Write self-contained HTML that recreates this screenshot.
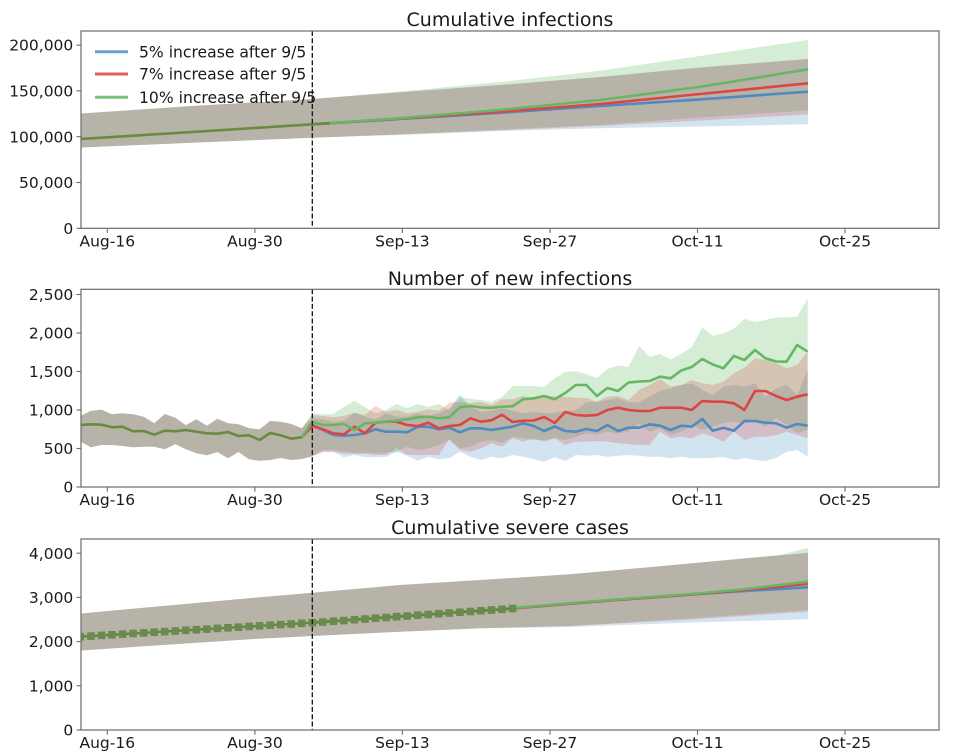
<!DOCTYPE html>
<html><head><meta charset="utf-8"><style>html,body{margin:0;padding:0;background:#fff}svg{display:block}</style></head>
<body>
<svg width="954" height="754" viewBox="0 0 954 754" xmlns="http://www.w3.org/2000/svg" font-family="'DejaVu Sans','Liberation Sans',sans-serif">
<defs>
<clipPath id="c1"><rect x="81" y="31" width="858" height="197.3"/></clipPath>
<clipPath id="c2"><rect x="81" y="289.3" width="858" height="197.7"/></clipPath>
<clipPath id="c3"><rect x="81" y="539" width="858" height="191"/></clipPath>
<marker id="sq" markerUnits="userSpaceOnUse" markerWidth="8" markerHeight="8" refX="3.8" refY="3.8" overflow="visible"><rect x="0" y="0" width="7.6" height="7.6" fill="#6b8a4d"/></marker>
</defs>
<rect width="954" height="754" fill="#fff"/>

<!-- ================= PANEL 1 ================= -->
<text x="510" y="26" font-size="19" text-anchor="middle" fill="#1a1a1a">Cumulative infections</text>
<g clip-path="url(#c1)">
<polygon fill="#1f77b4" fill-opacity="0.2" points="80.4,113.5 200,105.5 312.3,99 400,92.3 500,85 600,77 700,67.5 808,59 808,124.3 700,126.5 600,128.3 500,131 400,135 312.3,137.7 80.4,147.5"/>
<polygon fill="#2ca02c" fill-opacity="0.2" points="80.4,113.5 200,105.5 312.3,99 400,91.5 500,82 600,70.7 700,56 808,40 808,110.5 700,117.5 600,125 500,129.5 400,134.3 312.3,137.7 80.4,147.5"/>
<polygon fill="#d62728" fill-opacity="0.2" points="80.4,113.5 200,105.5 312.3,99 400,92.3 500,85 600,77 700,67.5 808,59 808,114.5 700,120.5 600,126 500,130.5 400,134.5 312.3,137.7 80.4,147.5"/>
<polyline fill="none" stroke="#4f8ac1" stroke-width="2.6" points="312.3,124.3 400,119 500,112.8 600,106 700,99.4 808,91.7"/>
<polyline fill="none" stroke="#dd4444" stroke-width="2.6" points="312.3,124.3 400,118.6 500,111.8 600,104 700,94 808,83.3"/>
<polyline fill="none" stroke="#66b764" stroke-width="2.6" points="312.3,124.3 400,118.2 500,110 600,100 700,86.9 808,69.3"/>
<polyline fill="none" stroke="#6a8a40" stroke-width="2.6" points="80.4,139 200,131.5 312.3,124.3 330,123.2"/>
</g>
<line x1="312.3" y1="31" x2="312.3" y2="228.3" stroke="#111" stroke-width="1.3" stroke-dasharray="5,2.3"/>
<rect x="81" y="31" width="858" height="197.3" fill="none" stroke="#6b6b6b" stroke-width="1.2"/>
<!-- legend -->
<line x1="95" y1="51.7" x2="128" y2="51.7" stroke="#6aa0d0" stroke-width="3"/>
<line x1="95" y1="74" x2="128" y2="74" stroke="#e06060" stroke-width="3"/>
<line x1="95" y1="97.3" x2="128" y2="97.3" stroke="#7cc07a" stroke-width="3"/>
<g font-size="15.6" fill="#1a1a1a">
<text x="139" y="57.3">5% increase after 9/5</text>
<text x="139" y="79.6">7% increase after 9/5</text>
<text x="139" y="102.9">10% increase after 9/5</text>
</g>
<g stroke="#6b6b6b" stroke-width="1.1">
<line x1="76.5" y1="228.3" x2="81" y2="228.3"/><line x1="76.5" y1="182.5" x2="81" y2="182.5"/><line x1="76.5" y1="136.7" x2="81" y2="136.7"/><line x1="76.5" y1="90.9" x2="81" y2="90.9"/><line x1="76.5" y1="45.1" x2="81" y2="45.1"/>
<line x1="107.3" y1="228.3" x2="107.3" y2="233"/><line x1="254.9" y1="228.3" x2="254.9" y2="233"/><line x1="402.4" y1="228.3" x2="402.4" y2="233"/><line x1="550" y1="228.3" x2="550" y2="233"/><line x1="697.5" y1="228.3" x2="697.5" y2="233"/><line x1="845" y1="228.3" x2="845" y2="233"/>
</g>
<g font-size="15.5" fill="#1a1a1a" text-anchor="end">
<text x="73.3" y="233.9">0</text><text x="73.3" y="188.1">50,000</text><text x="73.3" y="142.3">100,000</text><text x="73.3" y="96.5">150,000</text><text x="73.3" y="50.7">200,000</text>
</g>
<g font-size="15.5" fill="#1a1a1a" text-anchor="middle">
<text x="107.3" y="246.5">Aug-16</text><text x="254.9" y="246.5">Aug-30</text><text x="402.4" y="246.5">Sep-13</text><text x="550" y="246.5">Sep-27</text><text x="697.5" y="246.5">Oct-11</text><text x="845" y="246.5">Oct-25</text>
</g>

<!-- ================= PANEL 2 ================= -->
<text x="510" y="285" font-size="19" text-anchor="middle" fill="#1a1a1a">Number of new infections</text>
<g clip-path="url(#c2)">
<g transform="translate(312.3 0) scale(10.54 1)">
<polygon fill="#1f77b4" fill-opacity="0.2" points="-22,416 -21,410.7 -20,409.7 -19,414.3 -18,413.3 -17,414.3 -16,416.7 -15,423.3 -14,414 -13,417.7 -12,425.3 -11,419.3 -10,425.7 -9,418.7 -8,423.3 -7,424.3 -6,428.3 -5,429.3 -4,421 -3,421.7 -2,424 -1,428.3 0,418 1,419.3 2,421.7 3,420.5 4,412.7 5,416.7 6,419.3 7,413.3 8,416.7 9,416.7 10,413.3 11,416 12,413.3 13,408.3 14,395 15,406.7 16,411.7 17,410.7 18,408.3 19,410.7 20,413.3 21,411.7 22,413.3 23,412.7 24,411 25,410 26,402.3 27,401.7 28,400 29,398.3 30,402.3 31,402.3 32,396.7 33,391 34,388.3 35,385 36,383.3 37,390 38,395 39,386.7 40,385 41,386.7 42,383.3 43,396.7 44,388.3 45,385 46,395 47,370 47,456.7 46,450 45,451.7 44,458 43,461 42,460 41,458.3 40,460 39,457 38,458 37,458.3 36,458.3 35,456.7 34,458.3 33,456.7 32,456.7 31,455.7 30,455 29,455.7 28,456.7 27,455 26,455.7 25,455 24,461 23,457.3 22,461.7 21,459.3 20,456.7 19,455 18,458.3 17,456.7 16,460 15,456.7 14,451.7 13,458.3 12,459.3 11,456.7 10,460.7 9,456 8,451.7 7,457 6,457.3 5,457.3 4,455 3,457.3 2,451.7 1,451.7 0,456.7 -1,459 -2,460 -3,458 -4,460 -5,460.7 -6,459.3 -7,452 -8,458.3 -9,452 -10,455.3 -11,453.3 -12,449.3 -13,444 -14,449.3 -15,446.7 -16,446.7 -17,447.3 -18,446 -19,445 -20,445 -21,447.3 -22,441.7"/>
<polygon fill="#2ca02c" fill-opacity="0.2" points="-22,416 -21,410.7 -20,409.7 -19,414.3 -18,413.3 -17,414.3 -16,416.7 -15,423.3 -14,414 -13,417.7 -12,425.3 -11,419.3 -10,425.7 -9,418.7 -8,423.3 -7,424.3 -6,428.3 -5,429.3 -4,421 -3,421.7 -2,424 -1,428.3 0,413.5 1,414.3 2,414 3,406.7 4,400.7 5,407.3 6,413.3 7,410 8,404 9,408.3 10,404 11,406.7 12,404 13,410 14,397 15,399 16,400 17,401.7 18,397 19,386 20,386 21,386 22,387 23,378.3 24,372 25,371.3 26,374 27,378.3 28,369 29,365.5 30,367 31,346 32,357 33,354 34,359.5 35,353.7 36,347 37,327.5 38,336 39,333.3 40,328.7 41,319 42,322 43,320 44,317.5 45,317.5 46,316.5 47,298.7 47,430 46,433 45,425 44,418 43,426.7 42,421.7 41,423.3 40,421.7 39,423.3 38,426.7 37,430 36,425 35,431.7 34,435 33,428.3 32,431.7 31,423.3 30,431.7 29,433.3 28,431.7 27,434.3 26,433.3 25,436.7 24,440 23,438.3 22,440 21,440 20,438.3 19,436.7 18,442.7 17,440 16,441.7 15,446.7 14,448.3 13,440 12,445 11,448.3 10,450 9,446.7 8,451.7 7,452.7 6,453.3 5,452.7 4,452.7 3,451.7 2,450 1,450 0,456 -1,459 -2,460 -3,458 -4,460 -5,460.7 -6,459.3 -7,452 -8,458.3 -9,452 -10,455.3 -11,453.3 -12,449.3 -13,444 -14,449.3 -15,446.7 -16,446.7 -17,447.3 -18,446 -19,445 -20,445 -21,447.3 -22,441.7"/>
<polygon fill="#d62728" fill-opacity="0.2" points="-22,416 -21,410.7 -20,409.7 -19,414.3 -18,413.3 -17,414.3 -16,416.7 -15,423.3 -14,414 -13,417.7 -12,425.3 -11,419.3 -10,425.7 -9,418.7 -8,423.3 -7,424.3 -6,428.3 -5,429.3 -4,421 -3,421.7 -2,424 -1,428.3 0,415 1,416 2,417.3 3,416 4,412.7 5,415 6,406 7,411.7 8,410 9,413.3 10,411.7 11,409.3 12,410.7 13,402.7 14,402 15,403.3 16,401.7 17,405 18,399.3 19,399.3 20,396 21,398.3 22,395 23,396.7 24,397 25,397.7 26,398 27,401.7 28,396.7 29,396 30,400 31,390 32,385 33,379 34,386.7 35,385 36,380 37,383.3 38,385 39,381.7 40,373.3 41,367.7 42,358.3 43,360 44,363.3 45,368.3 46,365 47,351.7 47,438.3 46,435 45,431.7 44,435 43,436.7 42,436.7 41,440 40,431.7 39,441.7 38,436.7 37,433.3 36,438.3 35,436.7 34,438.3 33,431.7 32,445 31,445 30,444.3 29,443.3 28,441.7 27,441 26,441.7 25,441.7 24,445 23,438.3 22,441.7 21,438.3 20,441.7 19,438.3 18,446.7 17,443.3 16,448.3 15,451.7 14,450 13,439.3 12,455 11,455 10,455 9,455 8,448.3 7,455 6,455 5,454 4,454 3,453.5 2,452 1,452 0,456 -1,459 -2,460 -3,458 -4,460 -5,460.7 -6,459.3 -7,452 -8,458.3 -9,452 -10,455.3 -11,453.3 -12,449.3 -13,444 -14,449.3 -15,446.7 -16,446.7 -17,447.3 -18,446 -19,445 -20,445 -21,447.3 -22,441.7"/>
<polyline fill="none" stroke="#4f8ac1" stroke-width="2.6" stroke-linejoin="round" vector-effect="non-scaling-stroke" points="-1,437.3 0,425 1,430 2,435 3,435.7 4,435 5,433.3 6,429.3 7,431.7 8,431.7 9,432.3 10,426.7 11,426.7 12,429.3 13,427.7 14,432.3 15,428.3 16,428.3 17,430 18,428.3 19,426.7 20,423.3 21,426 22,431 23,426.5 24,431 25,431.7 26,429 27,431 28,425 29,431 30,427.7 31,427.7 32,424.3 33,425.7 34,430 35,425.7 36,426.7 37,419 38,430.7 39,427.7 40,430.7 41,421 42,421 43,422.7 44,423.3 45,427.7 46,424 47,425.7"/>
<polyline fill="none" stroke="#dd4444" stroke-width="2.6" stroke-linejoin="round" vector-effect="non-scaling-stroke" points="-1,437.3 0,426 1,429.3 2,433.3 3,434.3 4,426.7 5,433.3 6,422.7 7,421.7 8,421.7 9,425 10,426 11,422.7 12,428.3 13,426 14,425 15,418.3 16,421.7 17,420.3 18,414.7 19,422 20,420.7 21,420.5 22,417 23,423 24,412 25,415 26,415.7 27,415 28,410 29,407.7 30,410 31,411 32,411 33,407.7 34,407.7 35,407.7 36,410 37,401 38,401.7 39,401.7 40,403.3 41,410 42,391 43,391 44,396 45,400 46,396.7 47,394.3"/>
<polyline fill="none" stroke="#66b764" stroke-width="2.6" stroke-linejoin="round" vector-effect="non-scaling-stroke" points="-1,437.3 0,421.7 1,425 2,425 3,424 4,430 5,423.3 6,422.7 7,421.7 8,420.7 9,419.3 10,417.3 11,416.7 12,418.3 13,417.3 14,407.3 15,406 16,407.5 17,407.8 18,406.7 19,406.3 20,399.3 21,398.3 22,396 23,399.3 24,393 25,385 26,385 27,396 28,388 29,391 30,382.5 31,381.5 32,381 33,376.7 34,378.3 35,370.5 36,367 37,359 38,364.5 39,368.3 40,356 41,360 42,350 43,358.3 44,361.5 45,361.7 46,345 47,351.7"/>
<polyline fill="none" stroke="#6a8a40" stroke-width="2.6" stroke-linejoin="round" vector-effect="non-scaling-stroke" points="-22,425 -21,424.3 -20,424.7 -19,427.3 -18,426.7 -17,431.3 -16,431 -15,434.7 -14,430.7 -13,431.3 -12,430 -11,431.7 -10,433.3 -9,433.7 -8,432 -7,436 -6,435.3 -5,440 -4,433 -3,435.3 -2,438.7 -1,437.3"/>
</g>
</g>
<line x1="312.3" y1="289.3" x2="312.3" y2="487" stroke="#111" stroke-width="1.3" stroke-dasharray="5,2.3"/>
<rect x="81" y="289.3" width="858" height="197.7" fill="none" stroke="#6b6b6b" stroke-width="1.2"/>
<g stroke="#6b6b6b" stroke-width="1.1">
<line x1="76.5" y1="487" x2="81" y2="487"/><line x1="76.5" y1="448.5" x2="81" y2="448.5"/><line x1="76.5" y1="410" x2="81" y2="410"/><line x1="76.5" y1="371.5" x2="81" y2="371.5"/><line x1="76.5" y1="333" x2="81" y2="333"/><line x1="76.5" y1="294.5" x2="81" y2="294.5"/>
<line x1="107.3" y1="487" x2="107.3" y2="491.7"/><line x1="254.9" y1="487" x2="254.9" y2="491.7"/><line x1="402.4" y1="487" x2="402.4" y2="491.7"/><line x1="550" y1="487" x2="550" y2="491.7"/><line x1="697.5" y1="487" x2="697.5" y2="491.7"/><line x1="845" y1="487" x2="845" y2="491.7"/>
</g>
<g font-size="15.5" fill="#1a1a1a" text-anchor="end">
<text x="73.3" y="492.6">0</text><text x="73.3" y="454.1">500</text><text x="73.3" y="415.6">1,000</text><text x="73.3" y="377.1">1,500</text><text x="73.3" y="338.6">2,000</text><text x="73.3" y="300.1">2,500</text>
</g>
<g font-size="15.5" fill="#1a1a1a" text-anchor="middle">
<text x="107.3" y="505.2">Aug-16</text><text x="254.9" y="505.2">Aug-30</text><text x="402.4" y="505.2">Sep-13</text><text x="550" y="505.2">Sep-27</text><text x="697.5" y="505.2">Oct-11</text><text x="845" y="505.2">Oct-25</text>
</g>

<!-- ================= PANEL 3 ================= -->
<text x="510" y="534" font-size="19" text-anchor="middle" fill="#1a1a1a">Cumulative severe cases</text>
<g clip-path="url(#c3)">
<polygon fill="#1f77b4" fill-opacity="0.2" points="80.4,613.5 254,597.7 312.3,592.7 400,585 480,580 570,574.3 692,563.3 808,552.7 808,619.3 692,622.5 570,627 480,628.5 400,631.7 312.3,636 254,639 80.4,650.5"/>
<polygon fill="#2ca02c" fill-opacity="0.2" points="80.4,613.5 254,597.7 312.3,592.7 400,585 480,580 570,574.3 692,563.3 780,555 808,547.7 808,610 692,618.3 570,626 480,628.3 400,631.7 312.3,636 254,639 80.4,650.5"/>
<polygon fill="#d62728" fill-opacity="0.2" points="80.4,613.5 254,597.7 312.3,592.7 400,585 480,580 570,574.3 692,563.3 808,552.7 808,611.7 692,619.5 570,626 480,628.3 400,631.7 312.3,636 254,639 80.4,650.5"/>
<polyline fill="none" stroke="#4f8ac1" stroke-width="2.6" points="312.3,622.7 512.6,608.5 603,601 692,594.5 737,591.5 808,587.3"/>
<polyline fill="none" stroke="#dd4444" stroke-width="2.6" points="312.3,622.7 512.6,608.5 603,601 692,594.5 737,590.7 808,584"/>
<polyline fill="none" stroke="#66b764" stroke-width="2.6" points="312.3,622.2 512.6,608 603,600.5 692,594 737,590 808,581.7"/>
<polyline fill="none" stroke="#5f8a3c" stroke-width="2.4" marker-start="url(#sq)" marker-mid="url(#sq)" marker-end="url(#sq)" points="80.4,636.7 91.0,636.1 101.5,635.4 112.0,634.8 122.6,634.1 133.1,633.5 143.7,632.9 154.2,632.2 164.7,631.6 175.3,631.0 185.8,630.3 196.4,629.7 206.9,629.1 217.4,628.4 228.0,627.8 238.5,627.2 249.1,626.5 259.6,625.9 270.1,625.2 280.7,624.6 291.2,624.0 301.8,623.3 312.3,622.7 322.8,622.0 333.4,621.2 343.9,620.5 354.5,619.7 365.0,619.0 375.5,618.2 386.1,617.5 396.6,616.7 407.2,616.0 417.7,615.2 428.2,614.5 438.8,613.7 449.3,613.0 459.9,612.2 470.4,611.5 480.9,610.7 491.5,610.0 502.0,609.3 512.6,608.5"/>
</g>
<line x1="312.3" y1="539" x2="312.3" y2="730" stroke="#111" stroke-width="1.3" stroke-dasharray="5,2.3"/>
<rect x="81" y="539" width="858" height="191" fill="none" stroke="#6b6b6b" stroke-width="1.2"/>
<g stroke="#6b6b6b" stroke-width="1.1">
<line x1="76.5" y1="730" x2="81" y2="730"/><line x1="76.5" y1="685.8" x2="81" y2="685.8"/><line x1="76.5" y1="641.6" x2="81" y2="641.6"/><line x1="76.5" y1="597.4" x2="81" y2="597.4"/><line x1="76.5" y1="553.2" x2="81" y2="553.2"/>
<line x1="107.3" y1="730" x2="107.3" y2="734.7"/><line x1="254.9" y1="730" x2="254.9" y2="734.7"/><line x1="402.4" y1="730" x2="402.4" y2="734.7"/><line x1="550" y1="730" x2="550" y2="734.7"/><line x1="697.5" y1="730" x2="697.5" y2="734.7"/><line x1="845" y1="730" x2="845" y2="734.7"/>
</g>
<g font-size="15.5" fill="#1a1a1a" text-anchor="end">
<text x="73.3" y="735.6">0</text><text x="73.3" y="691.4">1,000</text><text x="73.3" y="647.2">2,000</text><text x="73.3" y="603">3,000</text><text x="73.3" y="558.8">4,000</text>
</g>
<g font-size="15.5" fill="#1a1a1a" text-anchor="middle">
<text x="107.3" y="748.2">Aug-16</text><text x="254.9" y="748.2">Aug-30</text><text x="402.4" y="748.2">Sep-13</text><text x="550" y="748.2">Sep-27</text><text x="697.5" y="748.2">Oct-11</text><text x="845" y="748.2">Oct-25</text>
</g>
</svg>
</body></html>
